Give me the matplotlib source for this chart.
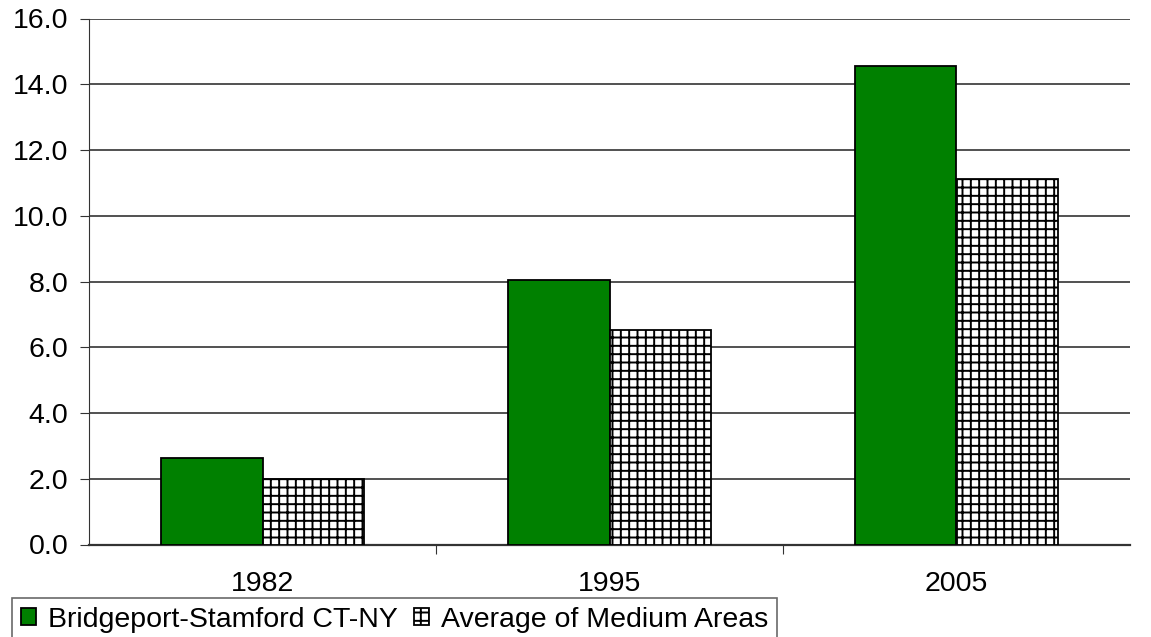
import numpy as np
import matplotlib
matplotlib.use("Agg")
import matplotlib.pyplot as plt

plt.rcParams['font.family'] = ['Liberation Sans', 'DejaVu Sans']
plt.rcParams['hatch.linewidth'] = 1.4

years = ["1982", "1995", "2005"]
bridgeport = [2.64, 8.04, 14.54]
medium_avg = [2.0, 6.52, 11.11]
series_names = ["Bridgeport-Stamford CT-NY", "Average of Medium Areas"]

FS = 20.5

fig = plt.figure(figsize=(11.51, 6.37), dpi=100)
ax = fig.add_axes([89 / 1151, 1 - 544.5 / 637, 1041 / 1151, 526 / 637])

x = np.arange(len(years))
w = 0.293
ax.bar(x - w / 2, bridgeport, w, color="#008000", edgecolor="black", linewidth=1.3,
       label=series_names[0], zorder=3)
ax.bar(x + w / 2, medium_avg, w, color="white", edgecolor="black", linewidth=1.3,
       hatch="++", label=series_names[1], zorder=3)

ax.set_xlim(-0.5, 2.5)
ax.set_ylim(0, 16)
yt = np.arange(0, 17, 2)
ax.set_yticks(yt)
ax.set_yticklabels([f"{v:.1f}" for v in yt], fontsize=FS)
ax.yaxis.grid(True, color="#222222", linewidth=1.1, zorder=0)
ax.set_axisbelow(True)

# category labels centred under groups, tick marks at the boundaries
ax.set_xticks([0.5, 1.5])
ax.set_xticklabels([])
ax.tick_params(axis="x", length=6.5, direction="out", color="#333333")
ax.set_xticks(x, minor=True)
ax.set_xticklabels(years, minor=True, fontsize=FS)
ax.tick_params(axis="x", which="minor", length=0, pad=19)
ax.tick_params(axis="y", length=6.5, direction="out", pad=8.5, color="#333333")

for s in ["top", "right"]:
    ax.spines[s].set_visible(False)
ax.spines["left"].set_color("#333333")
ax.spines["bottom"].set_color("#333333")
ax.spines["bottom"].set_linewidth(1.6)

leg = fig.legend(loc="upper left", bbox_to_anchor=(12 / 1151, 1 - 598 / 637), ncol=2,
                 fontsize=FS, frameon=True, fancybox=False, edgecolor="#444444",
                 handlelength=0.55, handleheight=0.55, handletextpad=0.42,
                 columnspacing=0.55, borderpad=0.3, borderaxespad=0)
leg.get_frame().set_linewidth(1.2)

fig.savefig("out.png", dpi=100)
